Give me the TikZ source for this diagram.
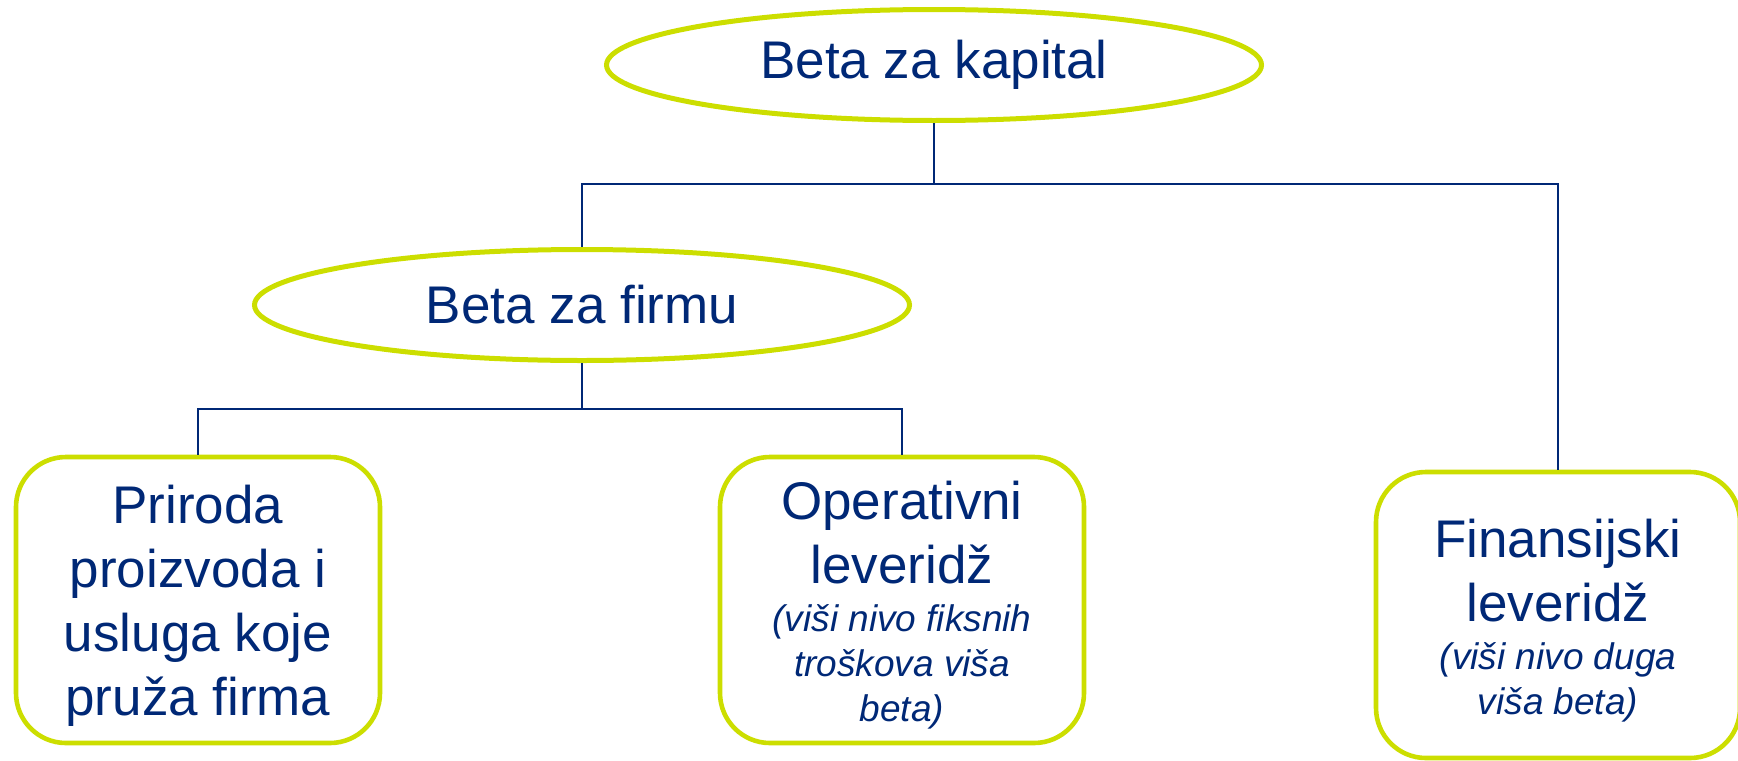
\documentclass[tikz,border=0pt]{standalone}
\usepackage{fontspec}
\setmainfont{Liberation Sans}
\usetikzlibrary{shapes.geometric}
\definecolor{navy}{RGB}{0,40,118}
\definecolor{lime}{RGB}{204,222,0}
\newcommand\subtxt[1]{\par\vspace{1.5pt}{\fontsize{18.5}{22.5}\selectfont\itshape #1\par}}
\tikzset{
  ell/.style={ellipse, draw=lime, line width=2.5pt, minimum width=327.5pt,
    minimum height=55.5pt, inner sep=0pt, text=navy,
    font=\fontsize{26.5}{32}\selectfont},
  rbox/.style={rectangle, rounded corners=25pt, draw=lime, line width=2.3pt,
    minimum width=182pt, minimum height=143pt, inner sep=0pt, text width=180pt,
    align=flush center, text=navy, font=\fontsize{26.5}{32}\selectfont,
    execute at begin node={\rule{0pt}{24.5pt}}},
  conn/.style={draw=navy, line width=1pt}
}
\begin{document}
\begin{tikzpicture}[x=0.5pt, y=-0.5pt]
\useasboundingbox (0,0) rectangle (1738,760);
\node[ell] (cap) at (934,65) {Beta za kapital};
\node[ell] (firm) at (582,305) {Beta za firmu};
\node[rbox] (prod) at (198,600) {Priroda\\proizvoda i\\usluga koje\\pruža firma};
\node[rbox] (oper) at (902,600) {Operativni\\leveridž\subtxt{(viši nivo fiksnih\\troškova viša\\beta)}};
\node[rbox] (fin) at (1558,615) {Finansijski\\leveridž\subtxt{(viši nivo duga\\viša beta)}};
\coordinate (j1) at (934,184);
\coordinate (j2) at (582,409);
\draw[conn] (cap.south) -- (j1);
\draw[conn] (j1) -| (firm.north);
\draw[conn] (j1) -| (fin.north);
\draw[conn] (firm.south) -- (j2);
\draw[conn] (j2) -| (prod.north);
\draw[conn] (j2) -| (oper.north);
\end{tikzpicture}
\end{document}
